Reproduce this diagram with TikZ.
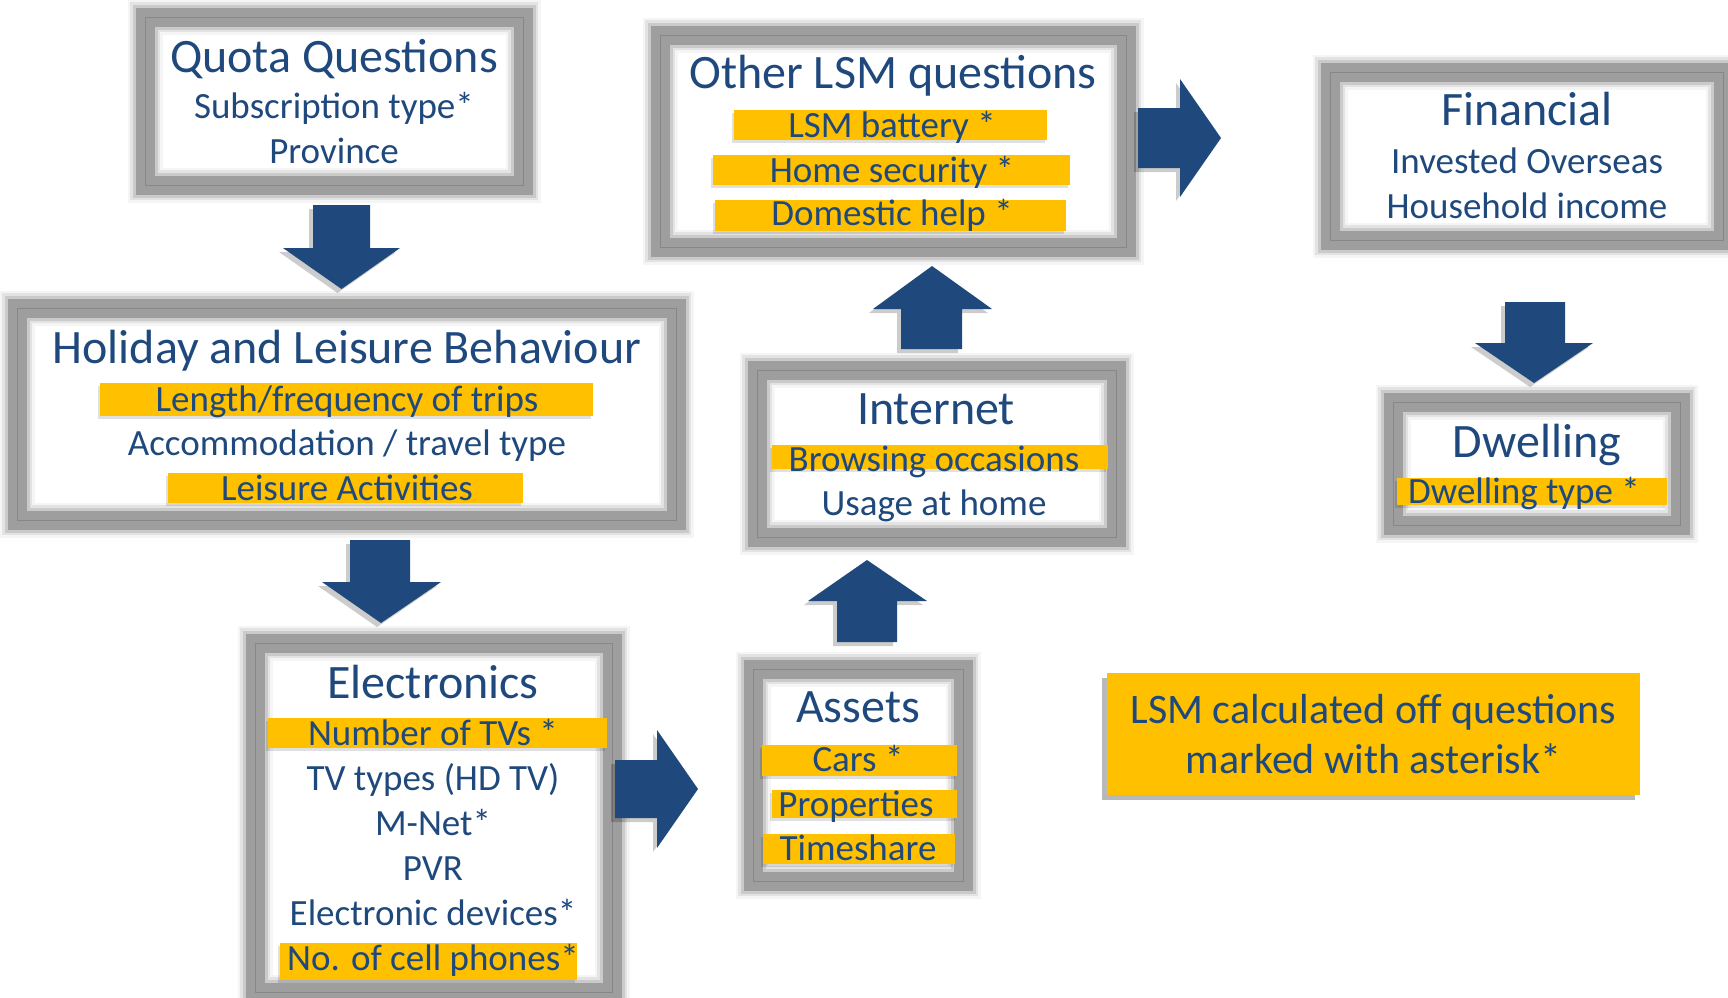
\documentclass[tikz,border=0pt]{standalone}
\usepackage{fontspec}
\setmainfont{Carlito}
\definecolor{txt}{HTML}{1F497D}
\definecolor{arr}{HTML}{1F497D}
\definecolor{gold}{HTML}{FFC000}
\definecolor{band}{HTML}{9E9E9E}
\definecolor{thinline}{HTML}{878787}
\begin{document}
\begin{tikzpicture}[x=1pt,y=-1pt,
  frame/.style={draw=band, line width=19pt, inner sep=0pt, outer sep=0pt,
    preaction={fill=white},
    preaction={draw=band, opacity=0.10, line width=35pt},
    preaction={draw=band, opacity=0.20, line width=30pt},
    preaction={draw=band, opacity=0.35, line width=25pt},
    postaction={draw=thinline, line width=1pt}},
  legbox/.style={fill=gold, draw=none, inner sep=0pt, outer sep=0pt,
    preaction={fill=black, opacity=0.28, transform canvas={xshift=-5pt,yshift=-5pt}}},
  hl/.style={fill=gold, draw=none,
    preaction={fill=black, opacity=0.12, transform canvas={xshift=-2pt,yshift=-3pt}}},
  blockarrow/.style={fill=arr, draw=none,
    preaction={fill=black, opacity=0.2, transform canvas={xshift=-4pt,yshift=-4pt}}},
  ttl/.style={anchor=base, text=txt, font=\fontsize{48}{57}\selectfont, inner sep=0pt},
  sub/.style={anchor=base, text=txt, font=\fontsize{37}{44}\selectfont, inner sep=0pt},
  leg/.style={anchor=base, text=txt, font=\fontsize{42}{50}\selectfont, inner sep=0pt}]

\useasboundingbox[fill=white] (0,0) rectangle (1728,997);

% ---- frames ----
\node[frame, minimum width=378pt, minimum height=168pt] (quota) at (334,101) {};
\node[frame, minimum width=659pt, minimum height=212pt] (holiday) at (346.5,414) {};
\node[frame, minimum width=357pt, minimum height=349pt] (elec) at (433.5,817.5) {};
\node[frame, minimum width=210pt, minimum height=212pt] (assets) at (858,775) {};
\node[frame, minimum width=359pt, minimum height=167pt] (internet) at (936.5,453.5) {};
\node[frame, minimum width=466pt, minimum height=212pt] (other) at (893,141) {};
\node[frame, minimum width=393pt, minimum height=168pt] (fin) at (1526.5,156) {};
\node[frame, minimum width=287pt, minimum height=123pt] (dwell) at (1536.5,463.5) {};
\node[legbox, minimum width=533pt, minimum height=122pt] (legend) at (1373.5,734) {};

% ---- highlight bars ----
\fill[hl] (100,383) rectangle (593,416);
\fill[hl] (168,473) rectangle (523,503);
\fill[hl] (268,718) rectangle (607,748);
\fill[hl] (280,943) rectangle (577,980);
\fill[hl] (762,745) rectangle (957,776);
\fill[hl] (772,790) rectangle (957,818);
\fill[hl] (763,834) rectangle (955,864);
\fill[hl] (772,445) rectangle (1108,469);
\fill[hl] (734,110) rectangle (1047,140);
\fill[hl] (713,155) rectangle (1070,185);
\fill[hl] (715,200) rectangle (1066,231);
\fill[hl] (1397,478) rectangle (1667,505);

% ---- block arrows ----
\fill[blockarrow] (313,205) -- (370,205) -- (370,248) -- (400,248) -- (341.5,289) -- (283,248) -- (313,248) -- cycle;
\fill[blockarrow] (350,540) -- (410,540) -- (410,582) -- (441,582) -- (381,623) -- (322,582) -- (350,582) -- cycle;
\fill[blockarrow] (615,760) -- (657,760) -- (657,730) -- (698,789) -- (657,848) -- (657,818) -- (615,818) -- cycle;
\fill[blockarrow] (837,642) -- (897,642) -- (897,601) -- (927,601) -- (867,560) -- (808,601) -- (837,601) -- cycle;
\fill[blockarrow] (901,349) -- (962,349) -- (962,309) -- (992,309) -- (932,266) -- (873,309) -- (901,309) -- cycle;
\fill[blockarrow] (1138,108) -- (1180,108) -- (1180,79) -- (1221,138) -- (1180,197) -- (1180,168) -- (1138,168) -- cycle;
\fill[blockarrow] (1505,302) -- (1565,302) -- (1565,343) -- (1593,343) -- (1534,383) -- (1475,343) -- (1505,343) -- cycle;

% ---- texts ----
\node[ttl] (quota-t) at (334,72) {Quota Questions};
\node[sub] (quota-1) at (334,118) {Subscription type*};
\node[sub] (quota-2) at (334,163) {Province};

\node[ttl] (hol-t) at (347,363) {Holiday and Leisure Behaviour};
\node[sub] (hol-1) at (347,411) {Length/frequency of trips};
\node[sub] (hol-2) at (347,455) {Accommodation / travel type};
\node[sub] (hol-3) at (347,500) {Leisure Activities};

\node[ttl] (elec-t) at (433,698) {Electronics};
\node[sub] (elec-1) at (433,745) {Number of TVs *};
\node[sub] (elec-2) at (433,790) {TV types (HD TV)};
\node[sub] (elec-3) at (433,835) {M-Net*};
\node[sub] (elec-4) at (433,880) {PVR};
\node[sub] (elec-5) at (433,925) {Electronic devices*};
\node[sub] (elec-6) at (433,970) {No. of cell phones*};

\node[ttl] (assets-t) at (858,722) {Assets};
\node[sub] (assets-1) at (858,771) {Cars *};
\node[sub] (assets-2) at (856,816) {Properties};
\node[sub] (assets-3) at (858,860) {Timeshare};

\node[ttl] (int-t) at (936,424) {Internet};
\node[sub] (int-1) at (934,471) {Browsing occasions};
\node[sub] (int-2) at (934,515) {Usage at home};

\node[ttl] (oth-t) at (893,88) {Other LSM questions};
\node[sub] (oth-1) at (892,137) {LSM battery *};
\node[sub] (oth-2) at (892,182) {Home security *};
\node[sub] (oth-3) at (892,225) {Domestic help *};

\node[ttl] (fin-t) at (1527,125) {Financial};
\node[sub] (fin-1) at (1527,173) {Invested Overseas};
\node[sub] (fin-2) at (1527,218) {Household income};

\node[ttl] (dw-t) at (1537,457) {Dwelling};
\node[sub] (dw-1) at (1524,503) {Dwelling type *};

\node[leg] (leg-1) at (1373.5,723) {LSM calculated off questions};
\node[leg] (leg-2) at (1373.5,773) {marked with asterisk*};
\end{tikzpicture}
\end{document}
